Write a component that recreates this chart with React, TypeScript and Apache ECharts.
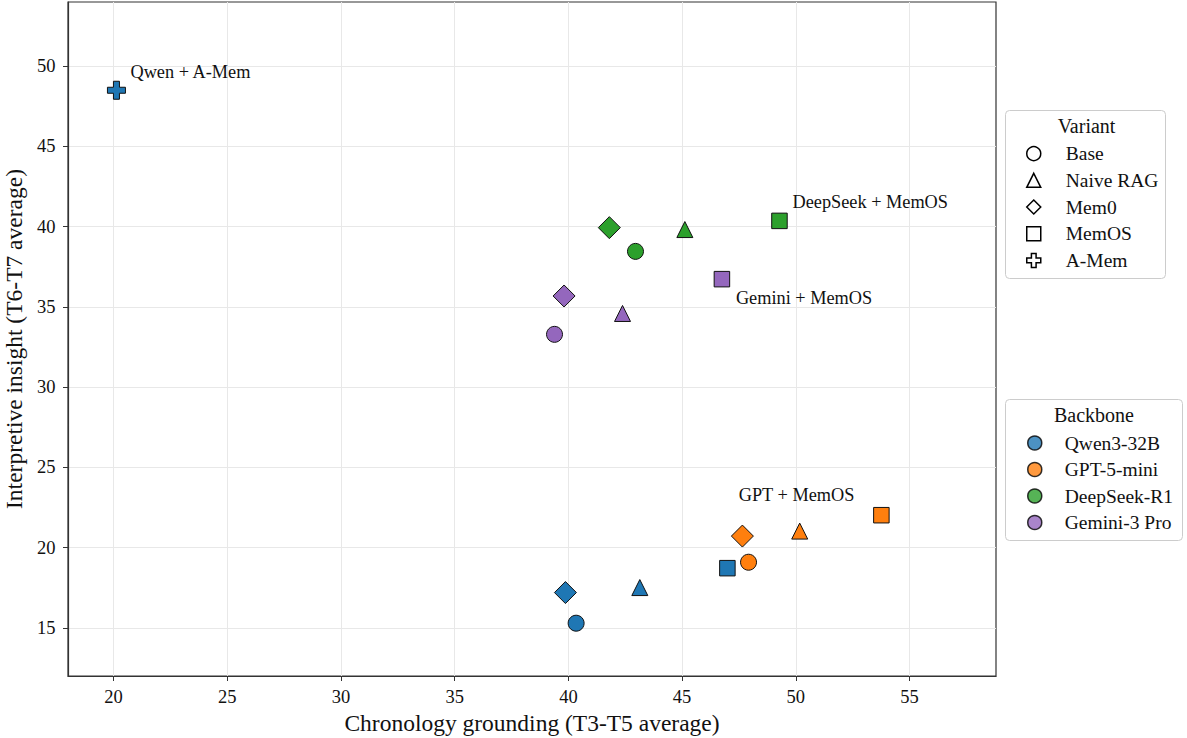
import React, { useEffect, useRef } from "react";
import * as echarts from "echarts";

const backbones = ["Qwen3-32B", "GPT-5-mini", "DeepSeek-R1", "Gemini-3 Pro"];
const backboneColors = ["#1f77b4", "#ff7f0e", "#2ca02c", "#9467bd"];
const variants = ["Base", "Naive RAG", "Mem0", "MemOS", "A-Mem"];

// per backbone, values in variant order (null = not run)
const qwenX = [40.34, 43.14, 39.87, 46.99, 20.13];
const qwenY = [15.29, 17.51, 17.2, 18.72, 48.5];
const gptX = [47.92, 50.17, 47.65, 53.76, null];
const gptY = [19.09, 21.03, 20.72, 22.02, null];
const deepseekX = [42.95, 45.12, 41.8, 49.28, null];
const deepseekY = [38.46, 39.82, 39.94, 40.36, null];
const geminiX = [39.39, 42.38, 39.81, 46.75, null];
const geminiY = [33.29, 34.59, 35.68, 36.73, null];

const xTicks = [20, 25, 30, 35, 40, 45, 50, 55];
const yTicks = [15, 20, 25, 30, 35, 40, 45, 50];

const annotations = [
  { backbone: 0, variant: 4, text: "Qwen + A-Mem", align: "left", dx: 14, dy: -18 },
  { backbone: 2, variant: 3, text: "DeepSeek + MemOS", align: "left", dx: 13, dy: -19 },
  { backbone: 3, variant: 3, text: "Gemini + MemOS", align: "left", dx: 14, dy: 19 },
  { backbone: 1, variant: 3, text: "GPT + MemOS", align: "right", dx: -27, dy: -20 },
];

const PLUS = "path://M1,0H2V1H3V2H2V3H1V2H0V1H1Z";
const variantSymbols = ["circle", "triangle", "diamond", "rect", PLUS];
const variantSizes = [16, 16, 22, 15.5, 18];

const FONT = "'Liberation Serif', 'Times New Roman', serif";

export default function App() {
  const ref = useRef<HTMLDivElement>(null);
  useEffect(() => {
    if (!ref.current) return;
    const chart = echarts.init(ref.current, undefined, { renderer: "svg" });
    const xs = [qwenX, gptX, deepseekX, geminiX];
    const ys = [qwenY, gptY, deepseekY, geminiY];

    const variantSeries = variants.map((v, vi) => {
      const data: any[] = [];
      backbones.forEach((b, bi) => {
        const x = xs[bi][vi];
        const y = ys[bi][vi];
        if (x == null || y == null) return;
        const ann = annotations.find((a) => a.backbone === bi && a.variant === vi);
        const item: any = {
          value: [x, y],
          name: b + " / " + v,
          itemStyle: { color: backboneColors[bi] },
        };
        if (ann) {
          item.label = {
            show: true,
            position: "inside",
            formatter: ann.text,
            align: ann.align,
            verticalAlign: "middle",
            offset: [ann.dx, ann.dy],
            color: "#111",
            fontSize: 18.3,
            fontFamily: FONT,
          };
        }
        data.push(item);
      });
      return {
        type: "scatter",
        name: v,
        symbol: variantSymbols[vi],
        symbolSize: variantSizes[vi],
        itemStyle: { borderColor: "#111", borderWidth: 1, opacity: 1 },
        emphasis: { disabled: true },
        data,
        z: 3,
      };
    });

    const backboneSeries = backbones.map((b, bi) => ({
      type: "scatter",
      name: b,
      data: [],
      itemStyle: { color: backboneColors[bi] },
    }));

    const axisCommon = {
      axisLine: { show: true, onZero: false, lineStyle: { color: "#333", width: 1.2 } },
      axisTick: { show: true, inside: false, length: 5, lineStyle: { color: "#333", width: 1 } },
      splitLine: { show: true, lineStyle: { color: "#e8e8e8", width: 1 } },
      nameTextStyle: { fontFamily: FONT, fontSize: 23.5, color: "#111" },
    };

    chart.setOption({
      animation: false,
      backgroundColor: "#fff",
      textStyle: { fontFamily: FONT },
      grid: {
        left: 68,
        right: 191,
        top: 2,
        bottom: 62,
        show: true,
        borderColor: "#333",
        borderWidth: 1.2,
        containLabel: false,
        outerBoundsMode: "none",
      },
      xAxis: {
        type: "value",
        min: 18,
        max: 58.8,
        name: "Chronology grounding (T3-T5 average)",
        nameLocation: "middle",
        nameGap: 30,
        ...axisCommon,
        axisTick: { ...axisCommon.axisTick, customValues: xTicks },
        axisLabel: {
          customValues: xTicks,
          fontFamily: FONT,
          fontSize: 18.5,
          color: "#111",
          margin: 11,
        },
      },
      yAxis: {
        type: "value",
        min: 12,
        max: 54,
        name: "Interpretive insight (T6-T7 average)",
        nameLocation: "middle",
        nameGap: 31,
        ...axisCommon,
        axisTick: { ...axisCommon.axisTick, customValues: yTicks },
        axisLabel: {
          customValues: yTicks,
          fontFamily: FONT,
          fontSize: 18.5,
          color: "#111",
          margin: 12.5,
        },
      },
      legend: [
        {
          selectedMode: false,
          orient: "vertical",
          left: 1026,
          top: 143.6,
          padding: 0,
          itemWidth: 14,
          itemHeight: 14,
          itemGap: 6.7,
          textStyle: { fontFamily: FONT, fontSize: 19.5, color: "#111", padding: [0, 0, 0, 20] },
          data: variants.map((v, vi) => ({
            name: v,
            icon: variantSymbols[vi],
            itemStyle: { color: "#fff", borderColor: "#000", borderWidth: 1.5 },
          })),
        },
        {
          selectedMode: false,
          orient: "vertical",
          left: 1027,
          top: 433,
          padding: 0,
          itemWidth: 14,
          itemHeight: 14,
          itemGap: 6.5,
          textStyle: { fontFamily: FONT, fontSize: 19.5, color: "#111", padding: [0, 0, 0, 18] },
          data: backbones.map((b, bi) => ({
            name: b,
            icon: "circle",
            itemStyle: { color: backboneColors[bi], borderColor: "#000", borderWidth: 1.5 },
          })),
        },
      ],
      graphic: [
        {
          type: "rect",
          shape: { x: 1005.5, y: 110.5, width: 160, height: 168, r: 4 },
          style: { fill: "rgba(255,255,255,0.8)", stroke: "#cccccc", lineWidth: 1 },
          z: -1,
        },
        {
          type: "text",
          x: 1086.5,
          y: 126,
          style: {
            text: "Variant",
            fontFamily: FONT,
            fontSize: 20,
            fill: "#111",
            align: "center",
            verticalAlign: "middle",
          },
        },
        {
          type: "rect",
          shape: { x: 1005.5, y: 399.5, width: 177, height: 141, r: 4 },
          style: { fill: "rgba(255,255,255,0.8)", stroke: "#cccccc", lineWidth: 1 },
          z: -1,
        },
        {
          type: "text",
          x: 1094,
          y: 415,
          style: {
            text: "Backbone",
            fontFamily: FONT,
            fontSize: 20,
            fill: "#111",
            align: "center",
            verticalAlign: "middle",
          },
        },
      ],
      series: [...variantSeries, ...backboneSeries],
    });
    return () => chart.dispose();
  }, []);
  return <div ref={ref} style={{ width: 1187, height: 738, position: "absolute", left: 0, top: 0 }} />;
}
